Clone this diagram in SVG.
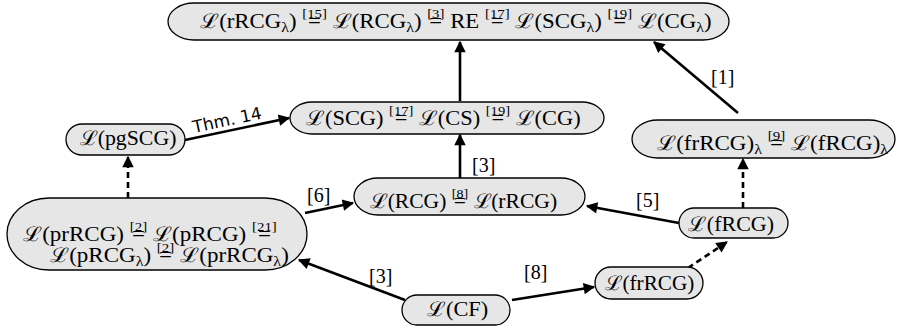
<svg xmlns="http://www.w3.org/2000/svg" width="897" height="331" viewBox="0 0 897 331">
  <style>
    .node { fill: #e6e6e6; stroke: #000; stroke-width: 1.3; }
    .t { font-family: "Liberation Serif", "DejaVu Serif", serif; font-size: 20px; fill: #000; }
    .lb { font-size: 13px; }
    .sb { font-size: 14px; }
    .lab { font-family: "Liberation Serif", "DejaVu Serif", serif; font-size: 20px; fill: #000; }
    .thm { font-family: "DejaVu Sans", sans-serif; font-size: 17px; fill: #000; }
    .edge { stroke: #000; stroke-width: 2.6; fill: none; }
    .dash { stroke-dasharray: 6 4; }
  </style>
  <defs>
    <marker id="ah" viewBox="0 0 10 10" refX="9" refY="5" markerWidth="5" markerHeight="4.4" markerUnits="strokeWidth" orient="auto">
      <path d="M0,0 L10,5 L0,10 z" fill="#000"/>
    </marker>
  </defs>

  <!-- connectors -->
  <g id="edges">
    <line class="edge" x1="460" y1="101" x2="460" y2="42" marker-end="url(#ah)"/>
    <line class="edge" x1="460" y1="178" x2="460" y2="135" marker-end="url(#ah)"/>
    <line class="edge" x1="185" y1="140" x2="289" y2="118" marker-end="url(#ah)"/>
    <line class="edge dash" x1="128" y1="198" x2="128" y2="157" marker-end="url(#ah)"/>
    <line class="edge" x1="305" y1="213" x2="353" y2="203" marker-end="url(#ah)"/>
    <line class="edge" x1="679" y1="223" x2="587" y2="206" marker-end="url(#ah)"/>
    <line class="edge dash" x1="743" y1="208" x2="743" y2="159" marker-end="url(#ah)"/>
    <line class="edge" x1="738" y1="113" x2="654" y2="42" marker-end="url(#ah)"/>
    <line class="edge" x1="405" y1="300" x2="299" y2="260" marker-end="url(#ah)"/>
    <line class="edge" x1="512" y1="300" x2="594" y2="287" marker-end="url(#ah)"/>
    <line class="edge dash" x1="688" y1="268" x2="727" y2="242" marker-end="url(#ah)"/>
    <text class="lab" x="711" y="84">[1]</text>
    <text class="lab" x="472" y="172">[3]</text>
    <text class="lab" x="307" y="202">[6]</text>
    <text class="lab" x="636" y="207">[5]</text>
    <text class="lab" x="369" y="283">[3]</text>
    <text class="lab" x="524" y="279">[8]</text>
    <text class="thm" transform="translate(194,133) rotate(-12)">Thm. 14</text>
  </g>

  <g id="n-top">
    <rect class="node" x="168" y="3" width="561" height="37" rx="26" ry="18.5"/>
    <text class="t" transform="translate(200,28) scale(1.14,1)">ℒ(rRCG<tspan class="sb" dy="4">λ</tspan><tspan dy="-4">) </tspan><tspan class="lb" dy="-10">[15]</tspan><tspan dx="-16.47" dy="10">=</tspan><tspan dx="5.19"> ℒ(RCG</tspan><tspan class="sb" dy="4">λ</tspan><tspan dy="-4">) </tspan><tspan class="lb" dy="-10">[3]</tspan><tspan dx="-13.22" dy="10">=</tspan><tspan dx="1.94"> RE </tspan><tspan class="lb" dy="-10">[17]</tspan><tspan dx="-16.47" dy="10">=</tspan><tspan dx="5.19"> ℒ(SCG</tspan><tspan class="sb" dy="4">λ</tspan><tspan dy="-4">) </tspan><tspan class="lb" dy="-10">[19]</tspan><tspan dx="-16.47" dy="10">=</tspan><tspan dx="5.19"> ℒ(CG</tspan><tspan class="sb" dy="4">λ</tspan><tspan dy="-4">)</tspan></text>
  </g>

  <g id="n-scg">
    <rect class="node" x="290" y="102" width="314" height="32" rx="22" ry="16"/>
    <text class="t" transform="translate(306,125) scale(1.12,1)">ℒ(SCG) <tspan class="lb" dy="-10">[17]</tspan><tspan dx="-16.47" dy="10">=</tspan><tspan dx="5.19"> ℒ(CS) </tspan><tspan class="lb" dy="-10">[19]</tspan><tspan dx="-16.47" dy="10">=</tspan><tspan dx="5.19"> ℒ(CG)</tspan></text>
  </g>

  <g id="n-pgscg">
    <rect class="node" x="66" y="124" width="119" height="31" rx="16" ry="15.5"/>
    <text class="t" transform="translate(80,145) scale(1.09,1)">ℒ(pgSCG)</text>
  </g>

  <g id="n-rcg">
    <rect class="node" x="354" y="178" width="231" height="37" rx="24" ry="18.5"/>
    <text class="t" transform="translate(370,208) scale(1.08,1)">ℒ(RCG) <tspan class="lb" dy="-10">[8]</tspan><tspan dx="-13.22" dy="10">=</tspan><tspan dx="1.94"> ℒ(rRCG)</tspan></text>
  </g>

  <g id="n-frrcg-l">
    <rect class="node" x="632" y="120" width="263" height="38" rx="26" ry="19"/>
    <text class="t" transform="translate(657,150) scale(1.15,1)">ℒ(frRCG)<tspan class="sb" dy="4">λ</tspan><tspan dy="-4"> </tspan><tspan class="lb" dy="-10">[9]</tspan><tspan dx="-13.22" dy="10">=</tspan><tspan dx="1.94"> ℒ(fRCG)</tspan><tspan class="sb" dy="4">λ</tspan></text>
  </g>

  <g id="n-frcg">
    <rect class="node" x="679" y="208" width="109" height="30" rx="15" ry="15"/>
    <text class="t" transform="translate(688,231) scale(1.1,1)">ℒ(fRCG)</text>
  </g>

  <g id="n-prrcg">
    <rect class="node" x="7" y="198" width="300" height="72" rx="42" ry="36"/>
    <text class="t" transform="translate(23,241) scale(1.15,1)">ℒ(prRCG) <tspan class="lb" dy="-10">[2]</tspan><tspan dx="-13.22" dy="10">=</tspan><tspan dx="1.94"> ℒ(pRCG) </tspan><tspan class="lb" dy="-10">[21]</tspan><tspan dx="-16.47" dy="10">=</tspan></text>
    <text class="t" transform="translate(50,262) scale(1.15,1)">ℒ(pRCG<tspan class="sb" dy="4">λ</tspan><tspan dy="-4">) </tspan><tspan class="lb" dy="-10">[2]</tspan><tspan dx="-13.22" dy="10">=</tspan><tspan dx="1.94"> ℒ(prRCG</tspan><tspan class="sb" dy="4">λ</tspan><tspan dy="-4">)</tspan></text>
  </g>

  <g id="n-cf">
    <rect class="node" x="402" y="295" width="108" height="30" rx="15" ry="15"/>
    <text class="t" transform="translate(427,316) scale(1.12,1)">ℒ(CF)</text>
  </g>

  <g id="n-frrcg">
    <rect class="node" x="595" y="267" width="108" height="32" rx="16" ry="16"/>
    <text class="t" transform="translate(605,290) scale(1.06,1)">ℒ(frRCG)</text>
  </g>
</svg>
